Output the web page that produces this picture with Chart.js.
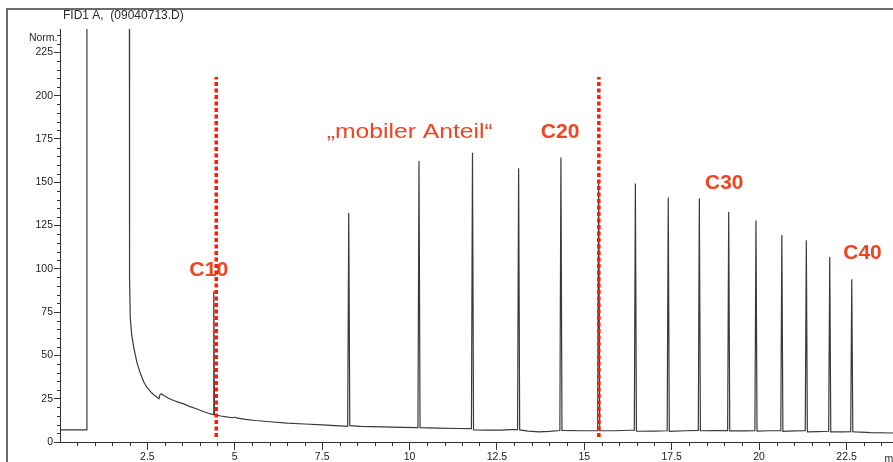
<!DOCTYPE html>
<html>
<head>
<meta charset="utf-8">
<title>FID1 A chromatogram</title>
<script src="https://cdn.jsdelivr.net/npm/chart.js@4.4.1/dist/chart.umd.min.js"></script>
<style>
  html, body { margin: 0; padding: 0; background: #fff; }
  canvas { display: block; }
</style>
</head>
<body>
<canvas id="gc" width="893" height="462"></canvas>
<script>
// retention time (min) and detector signal (Norm.)
const traceTime = [
  0.00, 0.76, 0.77, 1.98, 1.99, 2.01, 2.05, 2.11, 2.20, 2.30, 2.40, 2.49, 2.60, 2.70, 2.80, 2.83,
  2.86, 2.90, 2.97, 3.10, 3.25, 3.40, 3.54, 3.70, 3.90, 4.10, 4.25, 4.38, 4.40, 4.42, 4.50, 4.60,
  4.80, 4.96, 5.00, 5.05, 5.30, 5.60, 6.00, 6.50, 7.00, 7.50, 8.00, 8.23, 8.26, 8.29, 8.60, 9.20,
  9.80, 10.24, 10.27, 10.30, 10.80, 11.40, 11.77, 11.80, 11.83, 12.20, 12.60, 12.90, 13.09, 13.12, 13.15, 13.40,
  13.70, 14.00, 14.30, 14.33, 14.36, 14.90, 15.38, 15.41, 15.44, 15.90, 16.30, 16.43, 16.46, 16.49, 17.00, 17.37,
  17.40, 17.43, 17.90, 18.26, 18.29, 18.32, 18.80, 19.10, 19.13, 19.16, 19.60, 19.88, 19.91, 19.94, 20.30, 20.62,
  20.65, 20.68, 21.00, 21.32, 21.35, 21.38, 21.70, 21.99, 22.02, 22.05, 22.40, 22.62, 22.65, 22.68, 22.75, 23.20,
  23.83
];
const traceSignal = [
  7.0, 7.0, 400, 400, 95, 72, 62, 54.5, 46, 39.5, 34.5, 31.5, 28.8, 27.0, 25.5, 25.0,
  27.4, 27.9, 26.8, 25.3, 24.0, 22.9, 22.0, 20.6, 19.2, 17.6, 16.6, 15.8, 87, 15.7, 15.4, 15.0,
  14.4, 14.0, 14.4, 13.9, 13.1, 12.4, 11.7, 10.9, 10.4, 9.9, 9.3, 9.0, 132.3, 9.4, 9.0, 8.7,
  8.4, 8.3, 162.2, 8.3, 8.0, 7.8, 7.7, 167, 7.0, 6.8, 6.9, 7.2, 7.2, 158.1, 7.0, 6.3,
  5.9, 6.1, 6.6, 164.3, 6.7, 6.5, 6.6, 150, 6.5, 6.5, 6.8, 6.9, 149.3, 6.2, 6.3, 6.5,
  141.2, 6.2, 6.5, 6.7, 140.6, 6.5, 6.6, 6.6, 132.9, 6.4, 6.4, 6.6, 127.9, 6.3, 6.5, 6.6,
  119.6, 6.2, 6.4, 6.6, 116.5, 5.8, 6.0, 6.2, 106.9, 5.8, 5.9, 6.0, 94, 6.0, 5.8, 5.4,
  5.2
];

const peakLabels = ['C10', '\u201Emobiler Anteil\u201C', 'C20', 'C30', 'C40'];
const markerTimes = [4.47, 15.415];
const markerRange = [2.9, 210.8];

const xTickValues = [2.5, 5, 7.5, 10, 12.5, 15, 17.5, 20, 22.5];
const xTickLabels = ['2.5', '5', '7.5', '10', '12.5', '15', '17.5', '20', '22.5'];
const yTickValues = [0, 25, 50, 75, 100, 125, 150, 175, 200, 225];
const yTickLabels = ['0', '25', '50', '75', '100', '125', '150', '175', '200', '225'];

const X_MAX = 23.83;
const Y_MAX = 238.5;
const ACCENT = '#f2431f';
const AXIS = '#333333';
const FONT = '"Liberation Sans", Arial, sans-serif';

// where the red annotations sit, in data units
const labelPlacement = [
  { x: 4.257, y: 95.9, font: 'bold 21px ' + FONT, width: 39 },
  { x: 10.004, y: 175.7, font: '20px ' + FONT, width: 166 },
  { x: 14.304, y: 175.7, font: 'bold 21px ' + FONT, width: 38.7 },
  { x: 19.001, y: 145.9, font: 'bold 21px ' + FONT, width: 38.3 },
  { x: 22.958, y: 105.7, font: 'bold 21px ' + FONT, width: 38.4 }
];

const traceData = traceTime.map((t, i) => ({ x: t, y: traceSignal[i] }));

const markerSets = markerTimes.map(t => ({
  data: [{ x: t, y: markerRange[0] }, { x: t, y: markerRange[1] }],
  borderColor: '#ff1a00',
  borderWidth: 3.5,
  borderDash: [4, 2.5],
  borderCapStyle: 'butt',
  pointRadius: 0,
  order: 0
}));

const decorPlugin = {
  id: 'decor',
  beforeDatasetsDraw(chart) {
    const { ctx, scales: { x, y } } = chart;
    ctx.save();
    ctx.fillStyle = ACCENT;
    ctx.textAlign = 'center';
    ctx.textBaseline = 'alphabetic';
    peakLabels.forEach((text, i) => {
      const p = labelPlacement[i];
      ctx.font = p.font;
      const w = ctx.measureText(text).width;
      ctx.save();
      ctx.translate(x.getPixelForValue(p.x), y.getPixelForValue(p.y));
      ctx.scale(p.width / w, 1);
      ctx.fillText(text, 0, 0);
      ctx.restore();
    });
    ctx.restore();
  },
  afterDraw(chart) {
    const { ctx, chartArea, scales: { x, y } } = chart;
    ctx.save();

    // minor ticks
    ctx.strokeStyle = AXIS;
    ctx.lineWidth = 1;
    ctx.beginPath();
    for (let k = 1; k * 5 < Y_MAX; k++) {
      if (k % 5 === 0) continue;
      const py = Math.round(y.getPixelForValue(k * 5)) + 0.5;
      ctx.moveTo(chartArea.left - 3, py);
      ctx.lineTo(chartArea.left, py);
    }
    for (let k = 1; k * 0.5 < X_MAX; k++) {
      if (k % 5 === 0) continue;
      const px = Math.round(x.getPixelForValue(k * 0.5)) + 0.5;
      ctx.moveTo(px, chartArea.bottom);
      ctx.lineTo(px, chartArea.bottom + 4);
    }
    ctx.stroke();

    // outer frame of the printout
    ctx.strokeStyle = '#6a6a6a';
    ctx.lineWidth = 2;
    ctx.beginPath();
    ctx.moveTo(7, 462);
    ctx.lineTo(7, 9);
    ctx.lineTo(893, 9);
    ctx.stroke();

    ctx.fillStyle = '#2a2a2a';
    ctx.font = '12px ' + FONT;
    ctx.textAlign = 'left';
    ctx.textBaseline = 'middle';
    ctx.fillText('FID1 A,  (09040713.D)', 63, 15.5);

    ctx.font = '10.5px ' + FONT;
    ctx.textAlign = 'right';
    ctx.fillText('Norm.', 57.5, 38);

    ctx.textAlign = 'left';
    ctx.textBaseline = 'alphabetic';
    ctx.fillText('min', 884.5, 461.5);
    ctx.restore();
  }
};

new Chart(document.getElementById('gc'), {
  type: 'line',
  data: {
    datasets: [
      {
        data: traceData,
        borderColor: '#3a3a3a',
        borderWidth: 1.2,
        pointRadius: 0,
        tension: 0,
        order: 1
      },
      ...markerSets
    ]
  },
  options: {
    responsive: false,
    animation: false,
    events: [],
    layout: { padding: { top: 29, left: 0, right: 0, bottom: 0 } },
    plugins: { legend: { display: false }, tooltip: { enabled: false } },
    scales: {
      x: {
        type: 'linear',
        min: 0,
        max: X_MAX,
        afterFit: s => { s.height = 20; },
        afterBuildTicks: s => { s.ticks = xTickValues.map(v => ({ value: v })); },
        ticks: {
          autoSkip: false,
          maxRotation: 0,
          padding: 1,
          color: '#222',
          font: { family: FONT, size: 10.5 },
          callback: (v, i) => xTickLabels[i]
        },
        grid: { drawOnChartArea: false, drawTicks: true, tickLength: 8, color: AXIS },
        border: { display: true, color: AXIS, width: 1 }
      },
      y: {
        type: 'linear',
        min: 0,
        max: Y_MAX,
        afterFit: s => { s.width = 60; },
        afterBuildTicks: s => { s.ticks = yTickValues.map(v => ({ value: v })); },
        ticks: {
          autoSkip: false,
          padding: 1,
          color: '#222',
          font: { family: FONT, size: 10.5 },
          callback: (v, i) => yTickLabels[i]
        },
        grid: { drawOnChartArea: false, drawTicks: true, tickLength: 6, color: AXIS },
        border: { display: true, color: AXIS, width: 1 }
      }
    }
  },
  plugins: [decorPlugin]
});
</script>
</body>
</html>
